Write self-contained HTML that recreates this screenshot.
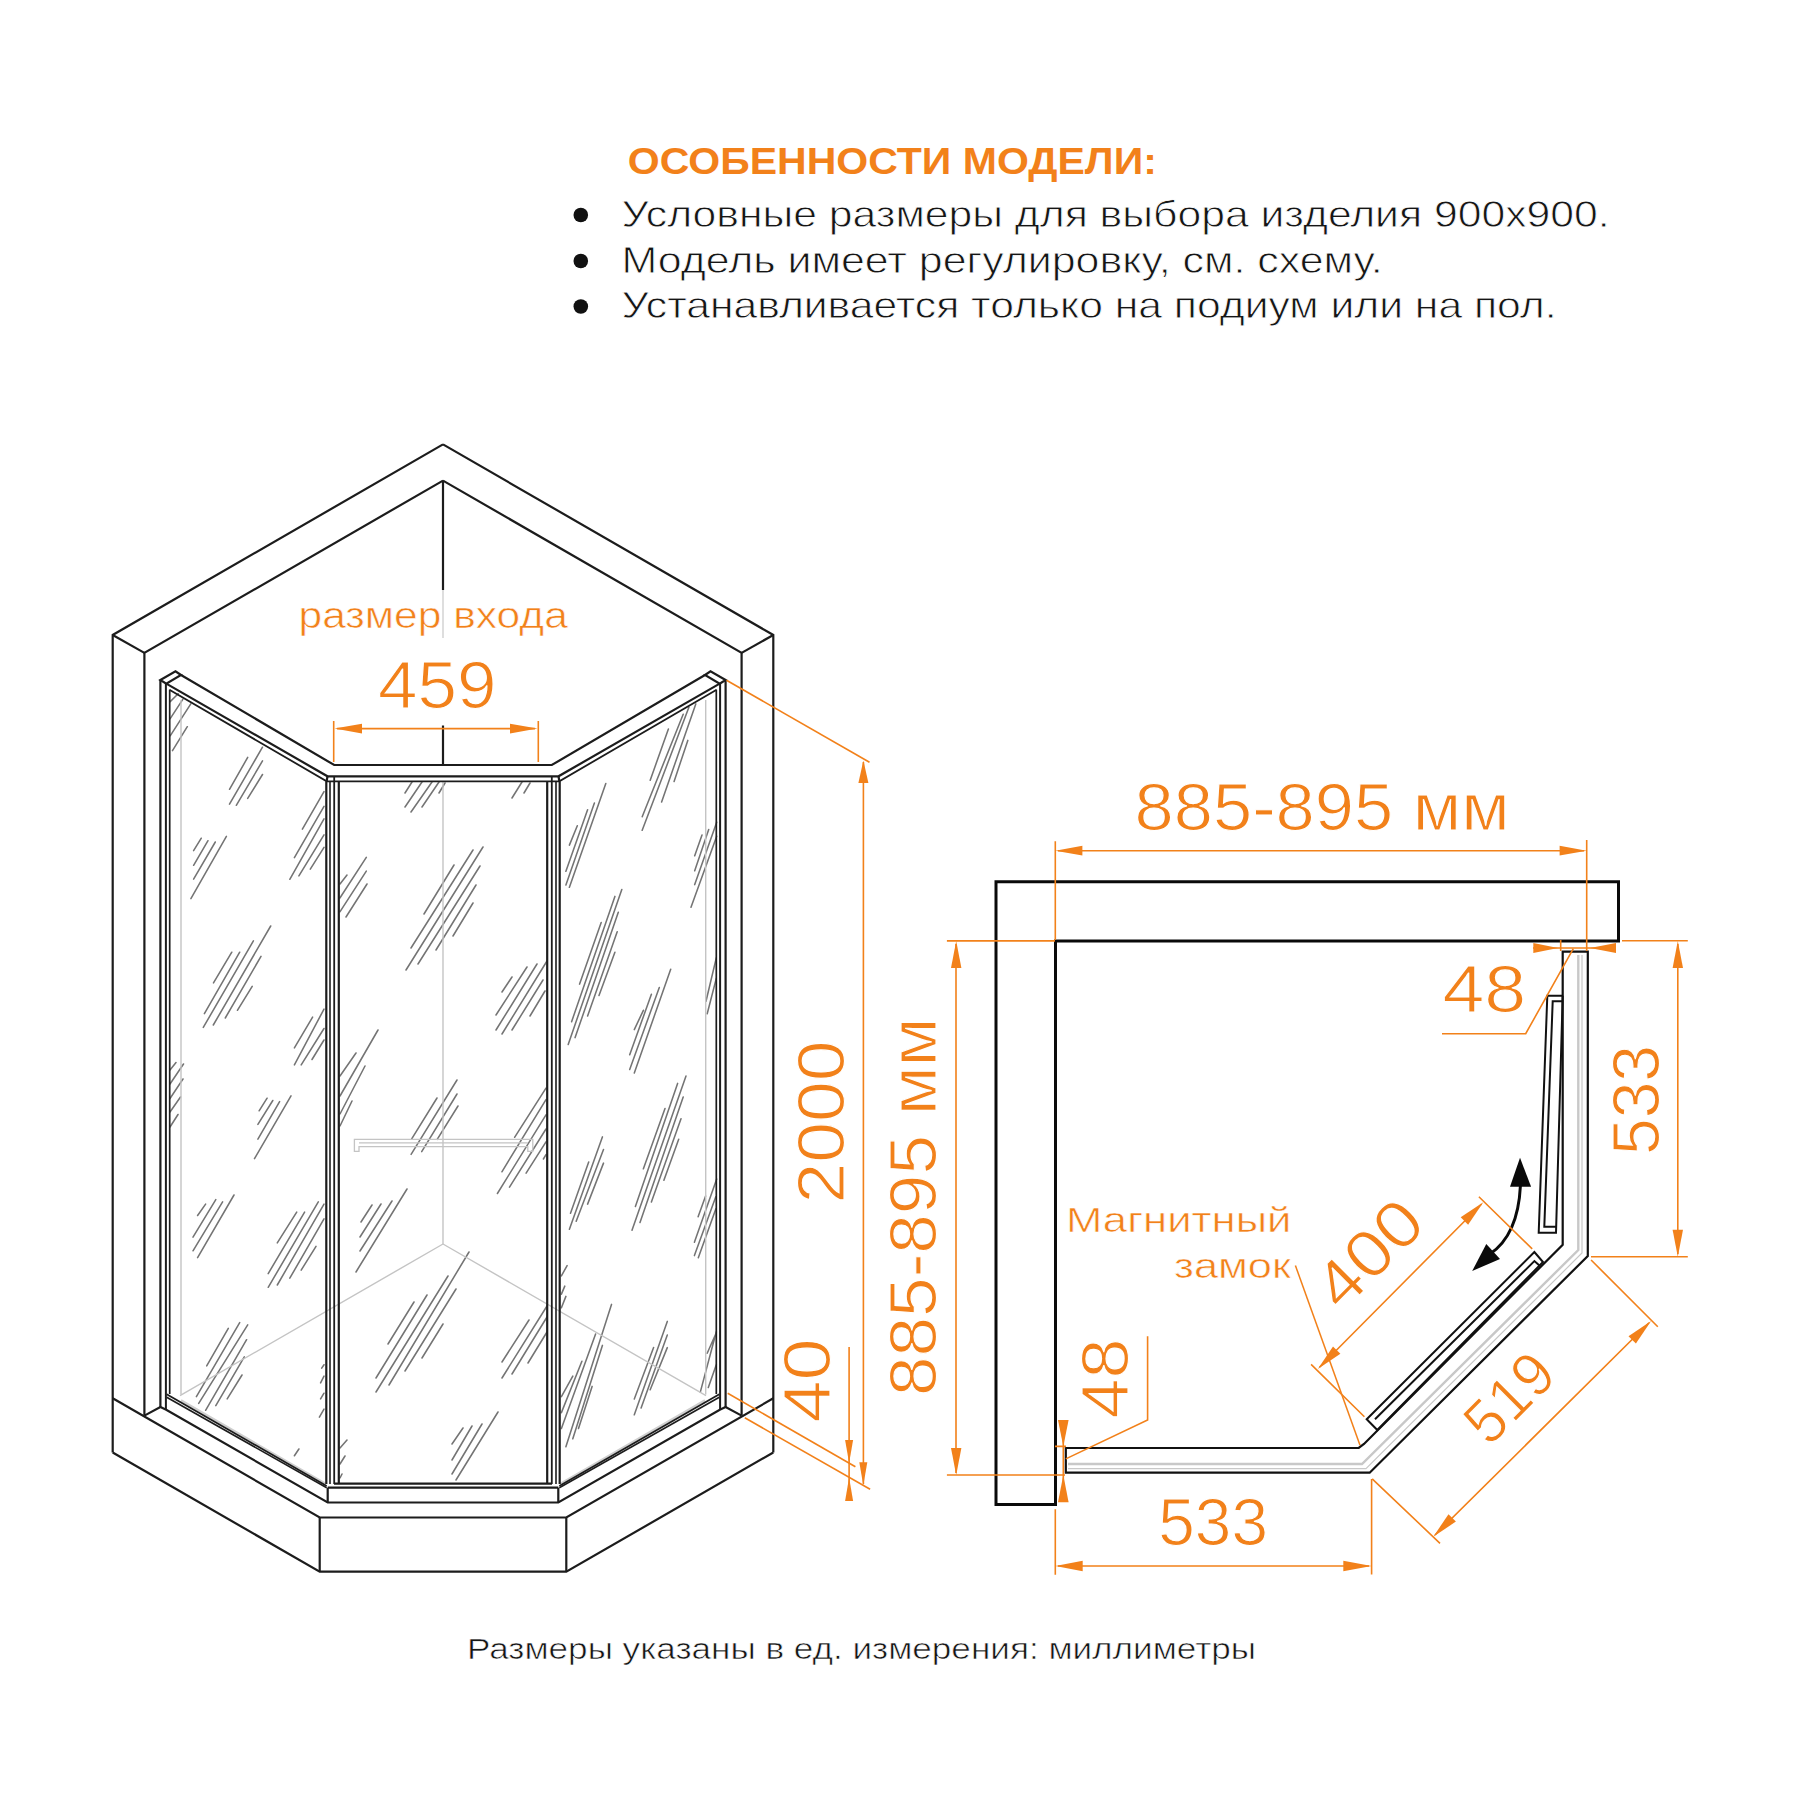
<!DOCTYPE html>
<html><head><meta charset="utf-8">
<style>
html,body{margin:0;padding:0;background:#fff;}
body{width:1800px;height:1800px;overflow:hidden;}
svg{display:block;}
text{font-family:"Liberation Sans",sans-serif;}
</style></head>
<body>
<svg width="1800" height="1800" viewBox="0 0 1800 1800">
<rect width="1800" height="1800" fill="#fff"/>
<!-- header -->
<g id="header">
<text x="627.8" y="174.3" font-size="37" font-weight="bold" fill="#F2811A" textLength="529" lengthAdjust="spacingAndGlyphs">ОСОБЕННОСТИ МОДЕЛИ:</text>
<circle cx="580.8" cy="215" r="7.3" fill="#111"/>
<circle cx="580.8" cy="261" r="7.3" fill="#111"/>
<circle cx="580.8" cy="306.5" r="7.3" fill="#111"/>
<text x="621.6" y="226.6" font-size="37.5" fill="#151515" stroke="#fff" stroke-width="0.8" textLength="988" lengthAdjust="spacingAndGlyphs">Условные размеры для выбора изделия 900х900.</text>
<text x="621.6" y="272.6" font-size="37.5" fill="#151515" stroke="#fff" stroke-width="0.8" textLength="761" lengthAdjust="spacingAndGlyphs">Модель имеет регулировку, см. схему.</text>
<text x="621.6" y="318" font-size="37.5" fill="#151515" stroke="#fff" stroke-width="0.8" textLength="935" lengthAdjust="spacingAndGlyphs">Устанавливается только на подиум или на пол.</text>
</g>
<text x="467" y="1659.4" font-size="30" fill="#151515" stroke="#fff" stroke-width="0.6" textLength="789" lengthAdjust="spacingAndGlyphs">Размеры указаны в ед. измерения: миллиметры</text>

<!-- LEFT DRAWING -->
<g id="hatch" fill="none" stroke="#747474" stroke-width="1.55" stroke-linecap="round">
<path d="M170.2,718.7 L182.8,699.4 M170.2,735.8 L190.8,703.9 M172.5,750.6 L187.3,726.7 M170.2,701.6 L178.2,693.7 M229.5,789.3 L247.7,757.4 M229.5,804.1 L262.5,747.2 M236.3,805.3 L262.5,760.9 M247.7,798.4 L262.5,774.5 M302.4,829.2 L324.0,791.6 M294.4,857.7 L324.0,806.4 M289.8,879.3 L324.0,818.9 M298.9,875.9 L324.0,834.9 M310.3,869.1 L324.0,847.4 M213.5,982.9 L231.8,952.2 M204.4,1013.7 L239.7,952.2 M203.3,1027.4 L253.4,940.8 M237.4,1010.3 L252.2,986.4 M294.4,1047.9 L312.6,1017.1 M294.4,1064.9 L324.0,1009.1 M301.2,1064.9 L324.0,1028.5"/>
<path d="M259.1,1110.8 L267.1,1098.2 M257.9,1124.4 L272.8,1100.5 M257.9,1139.2 L279.6,1101.6 M254.5,1158.6 L291.0,1095.9 M197.6,1215.5 L205.6,1204.1 M193.0,1237.2 L215.8,1199.6 M193.0,1250.8 L222.6,1201.9 M197.6,1257.7 L234.0,1195.0 M277.3,1242.9 L296.7,1212.1 M268.2,1273.6 L304.6,1212.1 M268.2,1287.3 L318.3,1201.9 M277.3,1285.0 L324.0,1204.1 M289.8,1278.2 L324.0,1218.9 M301.2,1270.2 L316.0,1246.3 M206.7,1365.9 L228.3,1328.3 M196.4,1396.6 L239.7,1322.6 M198.7,1403.4 L247.7,1324.9 M205.6,1410.3 L246.6,1339.7 M215.8,1405.7 L244.3,1356.8 M227.2,1398.9 L242.0,1375.0 M319.4,1417.1 L324.0,1409.1 M320.6,1398.9 L324.0,1393.2 M320.6,1382.9 L324.0,1376.1 M321.7,1368.1 L324.0,1364.7 M294.4,1455.8 L298.9,1449.0"/>
<path d="M405.0,793.0 L412.0,782.0 M405.0,807.0 L422.0,782.0 M411.0,812.0 L432.0,782.0 M422.0,807.0 L439.0,782.0 M439.0,793.0 L445.0,783.0 M512.0,798.0 L522.0,782.0 M524.0,793.0 L530.0,783.0 M340.0,884.0 L347.0,875.0 M346.0,917.0 L367.0,884.0 M424.0,914.0 L454.0,865.0 M411.0,948.0 L473.0,850.0 M406.0,970.0 L483.0,847.0 M418.0,964.0 L480.0,866.0 M436.0,950.0 L476.0,885.0 M453.0,936.0 L473.0,903.0 M502.0,992.0 L512.0,977.0 M496.0,1015.0 L527.0,967.0 M496.0,1030.0 L537.0,964.0 M502.0,1034.0 L547.0,961.0 M512.0,1030.0 L543.0,980.0 M530.0,1016.0 L545.0,991.0 M340.0,1076.0 L356.0,1053.0 M340.0,1096.0 L378.0,1030.0 M340.0,1114.0 L365.0,1066.0 M340.0,1126.0 L352.0,1101.0"/>
<path d="M361.0,1222.0 L372.0,1205.0 M360.0,1237.0 L381.0,1204.0 M360.0,1251.0 L392.0,1201.0 M356.0,1272.0 L407.0,1189.0 M388.0,1344.0 L414.0,1302.0 M376.0,1378.0 L427.0,1295.0 M376.0,1392.0 L448.0,1276.0 M389.0,1385.0 L469.0,1252.0 M405.0,1371.0 L456.0,1289.0 M422.0,1358.0 L443.0,1324.0 M502.0,1362.0 L529.0,1320.0 M502.0,1378.0 L547.0,1306.0 M512.0,1374.0 L547.0,1317.0 M528.0,1363.0 L547.0,1332.0 M452.0,1444.0 L463.0,1428.0 M452.0,1460.0 L472.0,1426.0 M452.0,1474.0 L482.0,1424.0 M456.0,1480.0 L498.0,1412.0 M340.0,1448.0 L347.0,1440.0 M340.0,1464.0 L345.0,1456.0 M340.0,1478.0 L342.0,1474.0"/>
<path d="M650.2,780.2 L668.4,729.0 M642.2,816.7 L683.2,714.2 M642.2,830.3 L688.9,707.3 M661.6,801.9 L695.8,703.9 M674.1,781.4 L687.8,740.4 M569.4,845.1 L577.3,825.8 M565.9,871.3 L587.6,809.8 M565.9,885.0 L594.4,803.0 M569.4,887.3 L605.8,783.6 M579.6,984.1 L601.2,922.6 M571.6,1021.7 L614.9,896.4 M568.2,1044.4 L621.8,889.6 M575.1,1037.6 L618.3,912.3 M587.6,1016.0 L617.2,931.7 M599.0,995.5 L614.9,952.2 M634.3,1029.6 L643.4,1010.3 M629.7,1054.7 L651.4,994.3 M629.7,1069.5 L659.3,987.5 M634.3,1072.9 L670.7,969.3 M707.2,1013.7 L716.3,978.4 M706.0,1001.2 L716.3,957.9"/>
<path d="M643.4,1168.8 L665.0,1108.5 M635.4,1206.4 L677.6,1083.4 M640.0,1222.4 L683.2,1097.1 M651.4,1201.9 L681.0,1118.7 M663.9,1180.2 L678.7,1139.2 M570.5,1213.2 L588.7,1162.0 M569.4,1229.2 L602.4,1136.9 M576.2,1221.2 L603.5,1149.5 M587.6,1204.1 L603.5,1163.1 M561.4,1275.9 L567.1,1265.6 M561.4,1294.1 L564.8,1286.1 M561.4,1307.8 L565.9,1296.4 M565.9,1446.7 L611.5,1304.4 M561.4,1428.5 L595.6,1334.0 M561.4,1412.6 L581.9,1361.3 M561.4,1396.6 L572.8,1376.1 M572.8,1438.8 L602.4,1345.4 M578.5,1428.5 L592.1,1386.4 M634.3,1414.8 L667.3,1321.4 M634.3,1398.9 L653.6,1347.6 M641.1,1408.0 L667.3,1335.1 M650.2,1389.8 L667.3,1347.6 M700.3,1392.1 L716.3,1331.7 M707.2,1353.3 L716.3,1332.8 M708.3,1387.5 L716.3,1364.7"/>
<path d="M411.7,1138.9 L437,1098 M411.1,1154.4 L457,1080 M421.7,1151.7 L457,1094 M437.2,1139.4 L458,1106"/>
<path d="M514.6,1137.3 L546,1088.1 M501.9,1171.8 L546,1099.6 M497.4,1193.5 L546,1114.9 M509.5,1187.1 L546,1129 M526.1,1173.1 L546,1141.8 M543.4,1159 L546,1154.6"/>
<path d="M170,1070 L176,1062.5 M170,1084 L183.5,1064 M170,1098.5 L183,1079 M170,1112 L180.5,1097 M170,1127 L178,1114.5 M312,1059.5 L324,1040"/>
<path d="M632,1230.3 L686,1076"/>
<path d="M213.3,1025 L270.7,926 M225.3,1018 L261,956.3 M339.9,898 L366.3,857.3 M339.9,911.8 L366.3,871.1 M694.7,855.8 L702,835.1 M694.7,870.8 L708.7,829.6 M694.7,884.6 L716.7,822.2 M691,907.2 L716.7,836.3"/>
<path d="M698.1,1216.7 L705.6,1196.1 M694.4,1242.2 L716.7,1178.9 M694.4,1255.6 L715.8,1196.7 M698.3,1257.8 L715.8,1208.9"/>
<path d="M193.6,850.7 L201.3,838.2 M193.6,865.3 L208,840.7 M193.6,879.1 L215.3,842 M190.9,898.7 L226.4,836.4"/>
</g>
<g fill="none" stroke="#1c1c1c" stroke-width="2.2">
  <!-- light gray back lines -->
  <g stroke="#c4c4c4" stroke-width="1.4">
    <path d="M443,782 V1244"/>
    <path d="M443,1244 L180,1395.6 M443,1244 L706,1395.6"/>
    <path d="M181,700 V1394.5 M705.7,700 V1394.5"/>
  </g>
  <!-- handle -->
  <path d="M354.4,1139.4 H532.8 V1151.4 H527.8 V1146.7 H359 V1151.4 H354.4 Z M359,1142.8 H527.8" stroke="#c4c4c4" stroke-width="1.3"/>
</g>
<g id="left" fill="none" stroke="#1c1c1c" stroke-width="2.2" stroke-linejoin="miter">
  <g id="lhalf">
    <!-- walls -->
    <path d="M112.7,1452.5 V635 L443,444.4"/>
    <path d="M144.4,1415.6 V652.9 L443,480.6"/>
    <path d="M112.7,635 L144.4,652.9"/>
    <!-- base -->
    <path d="M112.7,1398.3 L319.7,1517.5 H443"/>
    <path d="M112.7,1452.5 L319.7,1571.7 H443"/>
    <path d="M319.7,1517.5 V1571.7"/>
    <!-- tray -->
    <path d="M144.4,1415.6 L160.4,1407.1 L166.2,1409.8 L327.7,1502.5 H443"/>
    <path d="M327.7,1487.7 V1502.5 M327.7,1487.7 H443"/>
    <!-- side frame verticals -->
    <path d="M160.4,680 V1407.8"/>
    <path d="M165.9,683.6 V1409.4" stroke-width="2"/>
    <path d="M169.7,689.7 V1394" stroke-width="1.7"/>
    <path d="M160.4,680 L175.5,671.4 L181,675 L166.3,683.6 Z"/>
    <!-- top rail -->
    <path d="M181,675 L334.2,765 H443"/>
    <path d="M166.3,683.6 L327.5,776.3 H443"/>
    <path d="M169.4,689.7 L326.7,781.3 H443" stroke-width="1.8"/>
    <!-- bottom glass rail -->
    <path d="M181,1400.3 L326,1484" stroke="#cfcfcf" stroke-width="2.2"/>
    <path d="M166.7,1394.2 L326.7,1486" stroke-width="1.8"/>
    <path d="M166.7,1397.2 L326.7,1487.7" stroke-width="1.6"/>
    <!-- center panel verticals -->
    <path d="M326.3,781.3 V1484"/>
    <path d="M330,781.3 V1484" stroke-width="1.6"/>
    <path d="M334.2,776.3 V1484" stroke-width="1.8"/>
    <path d="M338.8,781.3 V1484"/>
    <path d="M334,1483.7 H443"/>
    <path d="M326.7,781 L327.5,776.3"/>
  </g>
  <use href="#lhalf" transform="translate(886,0) scale(-1,1)"/>
  <!-- center line -->
  <path d="M443,480.6 V590"/>
  <path d="M443,725.5 V765"/>
  <path d="M443,590 V638" stroke="#c8c8c8" stroke-width="1.2"/>
</g>

<!-- left orange dims -->
<g id="ldims" fill="none" stroke="#F2811A" stroke-width="1.6">
  <path d="M333.7,721 V762 M538.3,721 V762 M337,728.6 H535"/>
  <path d="M726.5,680.3 L869.5,762.2"/>
  <path d="M863.4,762 V1484"/>
  <path d="M727.7,1393.3 L855.4,1466.7"/>
  <path d="M744.8,1417.8 L870.1,1489.3"/>
  <path d="M849.1,1346.9 V1501"/>
</g>
<g fill="#F2811A" stroke="none">
  <path d="M334.5,728.6 L362,723.8 L362,733.4 Z"/>
  <path d="M537.5,728.6 L510,723.8 L510,733.4 Z"/>
  <path d="M863.4,760.4 L858.4,783 L868.4,783 Z"/>
  <path d="M863.3,1485.5 L859.3,1462.2 L867.3,1462.2 Z"/>
  <path d="M849.1,1463 L845.1,1440 L853.1,1440 Z"/>
  <path d="M849.1,1477.5 L845.1,1501 L853.1,1501 Z"/>
</g>
<g fill="#F2811A" stroke="#fff" stroke-width="0">
  <text x="298.5" y="628.3" font-size="37" stroke-width="0.6" textLength="269.3" lengthAdjust="spacingAndGlyphs">размер входа</text>
  <text x="378" y="708.3" font-size="66" stroke-width="1.1" textLength="118.4" lengthAdjust="spacingAndGlyphs">459</text>
  <text transform="translate(844.2,1203.5) rotate(-90)" x="0" y="0" font-size="66" stroke-width="1.1" textLength="163" lengthAdjust="spacingAndGlyphs">2000</text>
  <text transform="translate(830.4,1422.6) rotate(-90)" x="0" y="0" font-size="66" stroke-width="1.1" textLength="84" lengthAdjust="spacingAndGlyphs">40</text>
</g>

<!-- RIGHT DRAWING -->
<g id="right" fill="none" stroke="#0a0a0a" stroke-width="3">
  <path d="M996,881.8 H1618.5 V940.9 H1055.5 V1504.6 H996 Z"/>
</g>
<g fill="none" stroke="#111" stroke-width="2.2">
  <!-- bottom fixed panel + diagonal + right panel -->
  <path d="M1065.8,1448 H1358.7 L1364,1444 L1562.7,1244.7 V951.7 H1587.8 V1256 L1369.7,1472.7 H1065.8 Z"/>
  <!-- open leaf along diagonal -->
  <path d="M1366.7,1419.3 L1534.4,1252 L1543,1262 L1377.3,1430 Z" stroke-width="2"/>
  <path d="M1375,1419.3 L1534.4,1261 L1540,1266" stroke-width="2"/>
  <!-- open leaf right -->
  <path d="M1562.7,995.7 H1547.3 L1538.7,1232.7 H1556 L1562.7,995.7" stroke-width="2"/>
  <path d="M1562.7,1001.3 H1552.7 L1544.3,1226.7 H1556" stroke-width="2"/>
</g>
<g fill="none" stroke="#c8c8c8" stroke-width="2.4">
  <path d="M1068,1464 H1362 L1578.3,1250 V955"/>
  <path d="M1068,1468.6 H1366 L1582,1253 V955" stroke-width="1.2"/>
</g>
<!-- curved arrow -->
<path d="M1520.4,1186 Q1518,1235 1490,1254" fill="none" stroke="#0a0a0a" stroke-width="3"/>
<path d="M1520,1157.8 L1510,1186.7 L1531.1,1186.7 Z" fill="#0a0a0a"/>
<path d="M1472.2,1271.1 L1486.3,1244 L1500,1259 Z" fill="#0a0a0a"/>

<!-- right orange dims -->
<g fill="none" stroke="#F2811A" stroke-width="1.6">
  <path d="M1055.3,841.3 V940 M1586.7,840 V951 M1058,850.7 H1584"/>
  <path d="M946.9,940.9 H1055 M946.9,1475 H1065 M956,944 V1473"/>
  <path d="M1622,940.7 H1687.8 M1591,1256.7 H1687.8 M1677.8,944 V1254"/>
  <path d="M1560.7,940 V951 M1533,948 H1616"/>
  <path d="M1573.3,948.7 L1525.7,1033.7 H1442"/>
  <path d="M1055.3,1509.3 V1574.7 M1371.6,1478.9 V1574.4 M1058,1566 H1369"/>
  <path d="M1372.2,1478.9 L1440,1543.3 M1591.1,1260 L1657.8,1326.7 M1435,1535 L1649,1322.8"/>
  <path d="M1311.1,1364.4 L1364.4,1416.7 M1478.9,1196.7 L1532.2,1248.9 M1319.5,1367.2 L1481.6,1204"/>
  <path d="M1063.3,1420 V1500 M1055,1446.4 H1066 M1147.6,1336.2 V1420 L1065.8,1458.9"/>
  <path d="M1295.4,1265.5 L1360,1445.3" stroke-width="1.5"/>
</g>
<g fill="#F2811A">
  <path d="M1055.3,850.7 L1082.4,845.8 L1082.4,855.6 Z"/>
  <path d="M1586.7,850.7 L1559.6,845.8 L1559.6,855.6 Z"/>
  <path d="M956.2,941 L951,968 L961.4,968 Z"/>
  <path d="M956.2,1475 L951,1448 L961.4,1448 Z"/>
  <path d="M1677.8,941 L1672.6,968 L1683,968 Z"/>
  <path d="M1677.8,1256.7 L1672.6,1229.7 L1683,1229.7 Z"/>
  <path d="M1558,948 L1533.3,943 L1533.3,953 Z"/>
  <path d="M1590,948 L1616,943 L1616,953 Z"/>
  <path d="M1055.3,1566 L1082.7,1560.7 L1082.7,1571.3 Z"/>
  <path d="M1371.6,1566 L1343.3,1560.7 L1343.3,1571.3 Z"/>
  <path d="M1063.3,1446.4 L1058,1420 L1068.6,1420 Z"/>
  <path d="M1063.3,1475 L1058,1502.2 L1068.6,1502.2 Z"/>
  <path d="M1433.3,1536.7 L1448.5,1514.2 L1455.9,1521.6 Z"/>
  <path d="M1651.1,1321.1 L1635.9,1343.6 L1628.5,1336.2 Z"/>
  <path d="M1317.8,1368.9 L1333,1346.4 L1340.4,1353.8 Z"/>
  <path d="M1483.3,1202.2 L1468.1,1224.7 L1460.7,1217.3 Z"/>
</g>
<g fill="#F2811A" stroke="#fff" stroke-width="0">
  <text x="1134.6" y="829.6" font-size="66" stroke-width="1.1" textLength="375" lengthAdjust="spacingAndGlyphs">885-895 мм</text>
  <text transform="translate(936,1396) rotate(-90)" font-size="66" stroke-width="1.1" textLength="378.5" lengthAdjust="spacingAndGlyphs">885-895 мм</text>
  <text transform="translate(1658.9,1155) rotate(-90)" font-size="66" stroke-width="1.1" textLength="110" lengthAdjust="spacingAndGlyphs">533</text>
  <text x="1158.3" y="1544.7" font-size="66" stroke-width="1.1" textLength="109.7" lengthAdjust="spacingAndGlyphs">533</text>
  <text x="1442.4" y="1012.2" font-size="66" stroke-width="1.1" textLength="83.8" lengthAdjust="spacingAndGlyphs">48</text>
  <text transform="translate(1127.6,1418.4) rotate(-90)" font-size="66" stroke-width="1.1" textLength="80" lengthAdjust="spacingAndGlyphs">48</text>
  <text x="1066" y="1231.7" font-size="35" stroke-width="0.6" textLength="225.5" lengthAdjust="spacingAndGlyphs">Магнитный</text>
  <text x="1174" y="1278.2" font-size="35" stroke-width="0.6" textLength="117" lengthAdjust="spacingAndGlyphs">замок</text>
  <text transform="translate(1368.7,1253.5) rotate(-45)" x="-61.4" y="23" font-size="66" stroke-width="1.1" textLength="122.8" lengthAdjust="spacingAndGlyphs">400</text>
  <text transform="translate(1508.8,1397.1) rotate(-45)" x="-49.5" y="22" font-size="62" stroke-width="1.1" textLength="99" lengthAdjust="spacingAndGlyphs">519</text>
</g>
</svg>
</body></html>
